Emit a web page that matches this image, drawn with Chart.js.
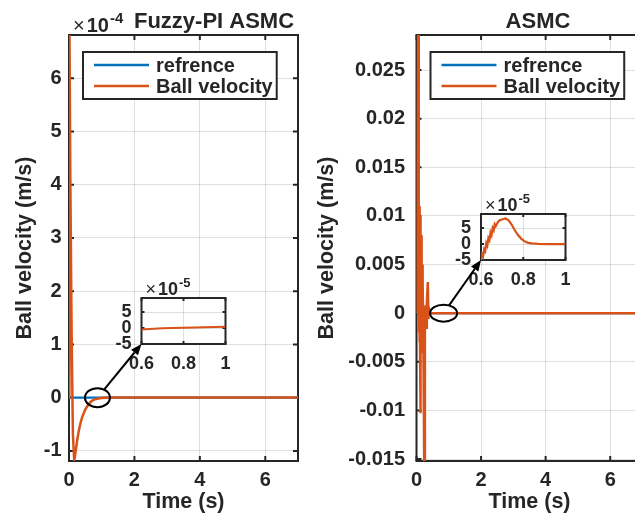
<!DOCTYPE html>
<html><head><meta charset="utf-8">
<script src="https://cdn.jsdelivr.net/npm/chart.js@4.4.1/dist/chart.umd.min.js"></script>
<style>
html,body{margin:0;padding:0;background:#fff;overflow:hidden;width:635px;height:516px;}
canvas{position:absolute;left:0;top:0;}
</style></head><body>
<canvas id="mainL" width="660" height="516"></canvas>
<canvas id="mainR" width="660" height="516"></canvas>
<canvas id="insetL" width="660" height="516"></canvas>
<canvas id="insetR" width="660" height="516"></canvas>
<script>
// ---------------- data ----------------
const seriesNames = ['refrence', 'Ball velocity'];
const plotTitles = ['Fuzzy-PI ASMC', 'ASMC'];
const xAxisTitle = 'Time (s)';
const yAxisTitle = 'Ball velocity (m/s)';

const xTicksMain = [0, 2, 4, 6];
const yTicksFuzzy = [-1, 0, 1, 2, 3, 4, 5, 6];          // units of 1e-4
const yTicksAsmc = [-0.015, -0.01, -0.005, 0, 0.005, 0.01, 0.015, 0.02, 0.025];
const xTicksInset = [0.6, 0.8, 1];
const yTicksInset = [-5, 0, 5];                          // units of 1e-5
const expFuzzy = '-4';
const expInset = '-5';

const refTime = [0, 7];
const refValue = [0, 0];

// Fuzzy-PI ASMC ball velocity (x 1e-4 m/s)
const fuzzyTime = [0, 0.012, 0.04, 0.08, 0.12, 0.16, 0.2, 0.25, 0.3, 0.35, 0.4, 0.5, 0.6, 0.7, 0.8, 0.9, 1.0, 1.2, 7];
const fuzzyVel  = [0, 7.2, 4.2, 1.2, -0.7, -1.19, -1.02, -0.8, -0.62, -0.48, -0.37, -0.22, -0.12, -0.06, -0.03, -0.015, -0.005, 0.003, 0.004];

// ASMC ball velocity (m/s)
const asmcTime = [0, 0.02, 0.05, 0.065, 0.075, 0.085, 0.09, 0.095, 0.1, 0.105, 0.11, 0.115, 0.12, 0.125, 0.13, 0.135, 0.14, 0.145, 0.15, 0.155, 0.16, 0.165, 0.17, 0.175, 0.18, 0.185, 0.19, 0.195, 0.2, 0.21, 0.22, 0.24, 0.26, 0.28, 0.3, 0.32, 0.35, 0.37, 0.39, 0.42, 0.45, 7];
const asmcVel  = [0, 0.012, 0.031, 0.011, -0.002, 0.010, -0.003, 0.011, -0.001, 0.009, -0.004, 0.010, -0.002, -0.0103, 0.009, -0.003, 0.008, -0.004, 0.007, -0.002, 0.008, -0.003, 0.006, -0.004, 0.005, -0.002, 0.004, -0.003, 0.003, -0.002, -0.006, -0.0162, -0.002, 0.0008, -0.0015, 0.001, 0.0032, -0.0006, 0.0004, 0, 0, 0];

// zoomed windows (x 1e-5 m/s)
const fuzzyZoomTime = [0.6, 0.7, 0.8, 0.9, 1.0];
const fuzzyZoomVel  = [-0.45, -0.1, 0.12, 0.28, 0.4];
const asmcZoomTime = [0.6, 0.605, 0.61, 0.615, 0.62, 0.625, 0.63, 0.635, 0.64, 0.645, 0.65, 0.655, 0.66, 0.665, 0.67, 0.68, 0.69, 0.7, 0.715, 0.73, 0.745, 0.76, 0.775, 0.79, 0.805, 0.82, 0.84, 0.87, 0.92, 1.0];
const asmcZoomVel  = [-5, -3.2, -3.9, -1.6, -2.2, 0.3, -0.5, 1.9, 1.2, 3.6, 2.8, 5.0, 4.3, 6.2, 5.6, 6.9, 7.5, 7.7, 8.0, 7.5, 6.1, 4.3, 2.8, 1.7, 0.9, 0.45, 0.2, 0.05, 0, 0];

// where the zoom ellipse sits on each main plot (time, value)
const zoomMarkTime = [0.87, 0.84];
const zoomMarkValue = [0, 0];

// ---------------- styling helpers ----------------
const FONT = '"Liberation Sans", Arial, Helvetica, sans-serif';
const INK = '#262626';
const GRID = 'rgba(38,38,38,0.15)';
const BLUE = '#0072BD';
const ORANGE = '#D95319';

function xy(ts, vs) { return ts.map((t, i) => ({x: t, y: vs[i]})); }

function linScale(c) {
  return {
    type: 'linear', min: c.min, max: c.max,
    afterBuildTicks: s => { s.ticks = c.ticks.map(v => ({value: v})); },
    afterFit: s => { if (c.width != null) s.width = c.width; if (c.height != null) s.height = c.height; },
    grid: {color: GRID, lineWidth: 1, drawTicks: false},
    border: {display: false},
    ticks: {padding: c.pad, color: INK, font: {family: FONT, size: c.fs, weight: 'bold'},
            maxRotation: 0, minRotation: 0, autoSkip: false, callback: v => String(v)},
    title: c.title ? {display: true, text: c.title, color: INK,
            font: {family: FONT, size: 21.5, weight: 'bold'}, padding: c.titlePad} : {display: false}
  };
}

const boxPlugin = {
  id: 'matBox',
  beforeDraw(chart, args, o) {
    if (!o.fill) return;
    const a = chart.chartArea, ctx = chart.ctx;
    ctx.save(); ctx.fillStyle = '#fff'; ctx.fillRect(a.left, a.top, a.width, a.height); ctx.restore();
  },
  beforeDatasetsDraw(chart, args, o) {
    const {ctx, chartArea: a, scales: {x, y}} = chart;
    ctx.save();
    ctx.strokeStyle = INK; ctx.lineWidth = o.lw;
    ctx.beginPath();
    x.ticks.forEach(t => { const p = x.getPixelForValue(t.value);
      ctx.moveTo(p, a.bottom); ctx.lineTo(p, a.bottom - o.tl);
      ctx.moveTo(p, a.top); ctx.lineTo(p, a.top + o.tl); });
    y.ticks.forEach(t => { const p = y.getPixelForValue(t.value);
      ctx.moveTo(a.left, p); ctx.lineTo(a.left + o.tl, p);
      ctx.moveTo(a.right, p); ctx.lineTo(a.right - o.tl, p); });
    ctx.stroke();
    ctx.strokeRect(a.left, a.top, a.width, a.height);
    ctx.restore();
  }
};

const legendPlugin = {
  id: 'matLegend',
  afterDatasetsDraw(chart, args, o) {
    if (!o.show) return;
    const {ctx, chartArea: a} = chart;
    const ds = chart.data.datasets;
    ctx.save();
    ctx.font = 'bold 20px ' + FONT;
    let tw = 0; ds.forEach(d => tw = Math.max(tw, ctx.measureText(d.label).width));
    const x0 = a.left + o.dx, y0 = a.top + o.dy;
    const lineStart = 11, lineLen = 55, gap = 7;
    const w = lineStart + lineLen + gap + tw + 4, h = 47;
    ctx.fillStyle = '#fff'; ctx.fillRect(x0, y0, w, h);
    ctx.strokeStyle = INK; ctx.lineWidth = 2; ctx.strokeRect(x0, y0, w, h);
    ds.forEach((d, i) => {
      const yy = y0 + 13 + i * 21;
      ctx.strokeStyle = d.borderColor; ctx.lineWidth = 2.5;
      ctx.beginPath(); ctx.moveTo(x0 + lineStart, yy); ctx.lineTo(x0 + lineStart + lineLen, yy); ctx.stroke();
      ctx.fillStyle = INK; ctx.textBaseline = 'middle'; ctx.textAlign = 'left';
      ctx.fillText(d.label, x0 + lineStart + lineLen + gap, yy + 1);
    });
    ctx.restore();
  }
};

const headPlugin = {
  id: 'matHead',
  afterDraw(chart, args, o) {
    const {ctx, chartArea: a} = chart;
    ctx.save(); ctx.fillStyle = INK; ctx.textBaseline = 'alphabetic';
    if (o.exp) {
      let x = a.left + o.expDx, yb = a.top - o.expDy;
      ctx.font = (o.expFs) + 'px ' + FONT; ctx.textAlign = 'left';
      ctx.fillText('\u00d7', x, yb); x += ctx.measureText('\u00d7').width + 2;
      ctx.font = 'bold ' + o.expFs + 'px ' + FONT;
      ctx.fillText('10', x, yb); x += ctx.measureText('10').width + 1;
      ctx.font = 'bold ' + o.supFs + 'px ' + FONT;
      ctx.fillText(o.exp, x, yb - o.supRaise);
    }
    if (o.title) {
      ctx.font = 'bold 22px ' + FONT; ctx.textAlign = 'center';
      ctx.fillText(o.title, (a.left + a.right) / 2 + o.titleDx, a.top - 7);
    }
    ctx.restore();
  }
};

function mainChart(id, c) {
  return new Chart(document.getElementById(id), {
    type: 'line',
    data: {datasets: [
      {label: seriesNames[0], data: xy(refTime, refValue), borderColor: BLUE, borderWidth: 2.2, pointRadius: 0, order: 1},
      {label: seriesNames[1], data: xy(c.t, c.v), borderColor: ORANGE, borderWidth: 2.5, pointRadius: 0, order: 0}
    ]},
    options: {
      responsive: false, animation: false, events: [], devicePixelRatio: 1,
      layout: {padding: {left: c.padL, right: c.padR, top: 35, bottom: 0}},
      elements: {line: {tension: 0, borderJoinStyle: 'miter'}},
      scales: {
        x: linScale({min: 0, max: 7, ticks: xTicksMain, height: 55, pad: 7, fs: 20, title: xAxisTitle, titlePad: {top: 0, bottom: 1.2}}),
        y: linScale({min: c.ymin, max: c.ymax, ticks: c.yticks, width: c.yw, pad: c.ypad, fs: 20, title: yAxisTitle, titlePad: {top: c.ytp, bottom: 0}})
      },
      plugins: {
        legend: {display: false}, tooltip: {enabled: false}, title: {display: false},
        matBox: {lw: 2, tl: 5, fill: false},
        matLegend: {show: true, dx: 14, dy: 17},
        matHead: {title: c.title, titleDx: c.titleDx, exp: c.exp, expDx: 4, expDy: 3, expFs: 20, supFs: 15, supRaise: 9}
      }
    },
    plugins: [boxPlugin, legendPlugin, headPlugin]
  });
}

const chartL = mainChart('mainL', {t: fuzzyTime, v: fuzzyVel, padL: 0, padR: 660 - 298, yw: 69, ymin: -1.19, ymax: 6.81,
  yticks: yTicksFuzzy, ypad: 7.5, ytp: 12, title: plotTitles[0], titleDx: 30.5, exp: expFuzzy});
const chartR = mainChart('mainR', {t: asmcTime, v: asmcVel, padL: 305, padR: 660 - 642.5, yw: 111.5, ymin: -0.0152, ymax: 0.0286,
  yticks: yTicksAsmc, ypad: 11.5, ytp: 9, title: plotTitles[1], titleDx: 8.5, exp: null});

function linkPlugin(main, idx, rx, ry) {
  return {
    id: 'zoomLink',
    afterDraw(chart) {
      const ctx = chart.ctx, a = chart.chartArea;
      const cx = main.scales.x.getPixelForValue(zoomMarkTime[idx]);
      const cy = main.scales.y.getPixelForValue(zoomMarkValue[idx]);
      const tx = a.left, ty = a.bottom;
      const dx = tx - cx, dy = ty - cy;
      const s = 1 / Math.sqrt((dx / rx) ** 2 + (dy / ry) ** 2);
      const sx = cx + dx * s, sy = cy + dy * s;
      const ang = Math.atan2(ty - sy, tx - sx);
      const L = 11, W = 4.5;
      const bx = tx - L * Math.cos(ang), by = ty - L * Math.sin(ang);
      ctx.save();
      ctx.strokeStyle = '#000'; ctx.fillStyle = '#000'; ctx.lineWidth = 2;
      ctx.beginPath(); ctx.ellipse(cx, cy, rx, ry, 0, 0, Math.PI * 2); ctx.stroke();
      ctx.beginPath(); ctx.moveTo(sx, sy); ctx.lineTo(bx, by); ctx.stroke();
      ctx.beginPath(); ctx.moveTo(tx, ty);
      ctx.lineTo(bx - W * Math.sin(ang), by + W * Math.cos(ang));
      ctx.lineTo(bx + W * Math.sin(ang), by - W * Math.cos(ang));
      ctx.closePath(); ctx.fill();
      ctx.restore();
    }
  };
}

function insetChart(id, c) {
  return new Chart(document.getElementById(id), {
    type: 'line',
    data: {datasets: [
      {label: seriesNames[1], data: xy(c.t, c.v), borderColor: ORANGE, borderWidth: c.bw, pointRadius: 0}
    ]},
    options: {
      responsive: false, animation: false, events: [], devicePixelRatio: 1,
      layout: {padding: {left: c.left - 40, right: 660 - c.right, top: c.top, bottom: 516 - c.bottom - 40}},
      elements: {line: {tension: 0}},
      scales: {
        x: linScale({min: 0.6, max: 1, ticks: xTicksInset, height: 40, pad: 9, fs: 18}),
        y: linScale({min: -5, max: 9.4, ticks: yTicksInset, width: 40, pad: 10, fs: 18})
      },
      plugins: {
        legend: {display: false}, tooltip: {enabled: false}, title: {display: false},
        matBox: {lw: 2, tl: 3, fill: true},
        matHead: {title: null, exp: expInset, expDx: 4, expDy: 3, expFs: 18, supFs: 13, supRaise: 8}
      }
    },
    plugins: [boxPlugin, headPlugin, linkPlugin(c.main, c.idx, c.rx, c.ry)]
  });
}

insetChart('insetL', {t: fuzzyZoomTime, v: fuzzyZoomVel, left: 141.5, right: 225.5, top: 298, bottom: 344, bw: 2,
  main: chartL, idx: 0, rx: 12.5, ry: 9.5});
insetChart('insetR', {t: asmcZoomTime, v: asmcZoomVel, left: 481, right: 565.5, top: 214, bottom: 260, bw: 2.2,
  main: chartR, idx: 1, rx: 13.5, ry: 8.5});
</script>
</body></html>
